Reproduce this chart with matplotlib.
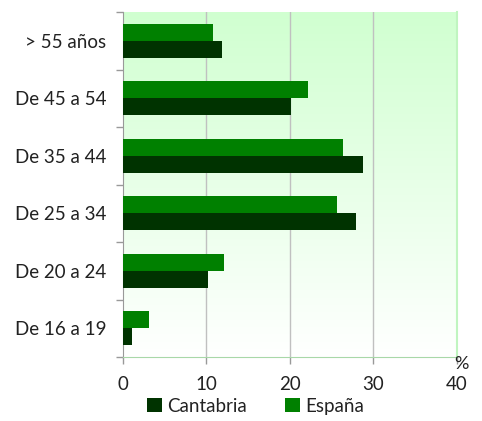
import numpy as np
import matplotlib
matplotlib.use("Agg")
import matplotlib.pyplot as plt
from matplotlib.colors import LinearSegmentedColormap

categories = ["De 16 a 19", "De 20 a 24", "De 25 a 34", "De 35 a 44", "De 45 a 54", "> 55 años"]
cantabria = [1.1, 10.2, 27.9, 28.7, 20.1, 11.9]
espana = [3.1, 12.1, 25.6, 26.3, 22.2, 10.8]
series_names = ["Cantabria", "España"]
xticks = [0, 10, 20, 30, 40]

plt.rcParams['font.family'] = ['Lato', 'DejaVu Sans']

fig = plt.figure(figsize=(4.82, 4.21), dpi=100)
ax = fig.add_axes([0.255, 0.152, 0.693, 0.8195])

y = np.arange(len(categories))
h = 0.296
ax.barh(y - h/2, cantabria, height=h, color="#003300", label=series_names[0], zorder=3)
ax.barh(y + h/2, espana, height=h, color="#008000", label=series_names[1], zorder=3)

ax.set_xlim(0, 40)
ax.set_ylim(-0.5, len(categories) - 0.5)

cmap = LinearSegmentedColormap.from_list("g", ["#ffffff", "#d0ffd0"])
grad = np.linspace(0, 1, 256).reshape(-1, 1)
ax.imshow(grad, aspect="auto", cmap=cmap, origin="lower",
          extent=[0, 40, -0.5, len(categories) - 0.5], zorder=0)

for xv in xticks[1:-1]:
    ax.axvline(xv, color="#c0c0c0", lw=1, zorder=1)

ax.set_xticks(xticks)
ax.set_xticklabels([str(v) for v in xticks], fontsize=13.5, color="#222222")
ax.set_yticks(y)
ax.set_yticklabels(categories, fontsize=13.5, color="#222222")
ax.set_yticks(np.arange(-0.5, len(categories)), minor=True)
ax.tick_params(axis="y", which="major", length=0, pad=12)
ax.tick_params(axis="y", which="minor", length=5, color="#999999", width=1)
ax.tick_params(axis="x", length=5, color="#999999", width=1, pad=9)

ax.spines["left"].set_color("#999999")
ax.spines["bottom"].set_color("#a8d8a8")
ax.spines["right"].set_color("#c0f5c0")
ax.spines["right"].set_linewidth(1.5)
ax.spines["top"].set_visible(False)

ax.annotate("%", xy=(40, -0.5), xytext=(3, 1), textcoords="offset points",
            fontsize=13, color="#222222", ha="center", va="top")

leg = fig.legend(loc="lower center", bbox_to_anchor=(0.53, -0.025), ncol=2, frameon=False,
                 fontsize=13.5, handlelength=0.8, handleheight=0.8, handletextpad=0.3,
                 columnspacing=2.0)
for t in leg.get_texts():
    t.set_color("#222222")

fig.savefig("out.png", dpi=100)
